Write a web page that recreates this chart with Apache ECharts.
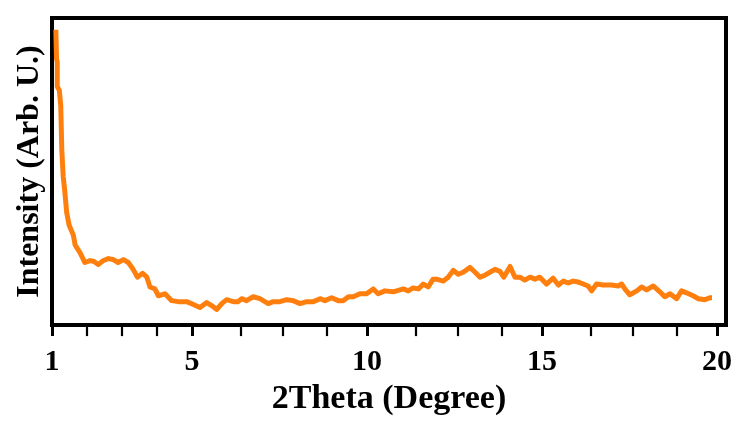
<!DOCTYPE html>
<html>
<head>
<meta charset="utf-8">
<script src="https://cdn.jsdelivr.net/npm/echarts@6/dist/echarts.min.js"></script>
<style>
  html, body { margin: 0; padding: 0; background: #fff; }
  #main { width: 736px; height: 421px; }
</style>
</head>
<body>
<div id="main"></div>
<script>
// 2Theta positions (degree)
const theta = [
  1.11, 1.13, 1.15, 1.15, 1.21, 1.25, 1.28, 1.32, 1.37, 1.42, 1.49, 1.61, 1.66, 1.80, 1.94,
  2.09, 2.20, 2.32, 2.47, 2.61, 2.75, 2.89, 3.04, 3.18, 3.32, 3.44, 3.59, 3.71, 3.80, 3.94,
  4.04, 4.23, 4.42, 4.61, 4.85, 5.04, 5.23, 5.42, 5.56, 5.71, 5.85, 5.99, 6.18, 6.32, 6.42,
  6.56, 6.75, 6.94, 7.18, 7.32, 7.51, 7.71, 7.89, 8.09, 8.28, 8.47, 8.66, 8.80, 8.99, 9.18,
  9.32, 9.47, 9.61, 9.80, 9.99, 10.18, 10.32, 10.51, 10.75, 11.04, 11.18, 11.32, 11.47, 11.61, 11.75,
  11.89, 11.99, 12.18, 12.32, 12.47, 12.61, 12.75, 12.94, 13.09, 13.23, 13.37, 13.51, 13.66, 13.80, 13.91,
  14.09, 14.23, 14.37, 14.51, 14.66, 14.80, 14.94, 15.13, 15.32, 15.47, 15.61, 15.75, 15.89, 16.04, 16.18,
  16.32, 16.42, 16.56, 16.75, 16.99, 17.18, 17.28, 17.37, 17.51, 17.71, 17.85, 17.99, 18.18, 18.37, 18.51,
  18.66, 18.85, 18.99, 19.13, 19.32, 19.47, 19.66, 19.80, 19.86
];
// intensity (arbitrary units)
const intensity = [
  302, 272, 269, 244, 240, 224, 179, 152, 135, 115, 102, 92, 82, 74, 64,
  66, 65, 62, 66, 68, 67, 64, 67, 64, 57, 49, 53, 49, 39, 37,
  30, 32, 25, 24, 24, 21, 18, 23, 20, 16, 22, 26, 24, 24, 27,
  25, 29, 27, 22, 24, 24, 26, 25, 22, 24, 24, 27, 25, 28, 25,
  25, 29, 29, 32, 32, 37, 32, 35, 34, 37, 35, 38, 37, 42, 39,
  47, 47, 45, 49, 56, 52, 54, 59, 54, 49, 51, 54, 57, 55, 49,
  60, 49, 49, 46, 49, 47, 49, 42, 48, 41, 45, 43, 45, 44, 42,
  40, 35, 42, 41, 41, 40, 42, 37, 31, 35, 39, 36, 40, 34, 29,
  32, 27, 35, 33, 30, 27, 26, 28, 28
];
const majorTicks = [1, 5, 10, 15, 20];
const minorTicks = [2, 3, 4, 6.4, 7.6, 8.85, 11.4, 12.6, 13.85, 16.4, 17.6, 18.85];

const points = theta.map((t, i) => [t, intensity[i]]);
const font = 'Liberation Serif';

const chart = echarts.init(document.getElementById('main'));
chart.setOption({
  animation: false,
  grid: {
    left: 52, right: 10, top: 18, bottom: 89.5,
    show: true, borderColor: '#000', borderWidth: 4
  },
  xAxis: [{
    type: 'value', min: 1, max: 20.26,
    splitLine: { show: false },
    axisLine: { lineStyle: { color: '#000', width: 4 } },
    axisTick: { customValues: majorTicks, length: 11, lineStyle: { color: '#000', width: 3 } },
    axisLabel: {
      customValues: majorTicks, margin: 22,
      color: '#000', fontFamily: font, fontWeight: 'bold', fontSize: 30
    },
    name: '2Theta (Degree)', nameLocation: 'middle', nameGap: 55,
    nameTextStyle: { color: '#000', fontFamily: font, fontWeight: 'bold', fontSize: 34 }
  }, {
    type: 'value', min: 1, max: 20.26, position: 'bottom',
    splitLine: { show: false },
    axisLine: { show: false },
    axisTick: { customValues: minorTicks, length: 11, lineStyle: { color: '#000', width: 2.2 } },
    axisLabel: { show: false }
  }],
  yAxis: {
    type: 'value', min: 0, max: 314,
    splitLine: { show: false },
    axisLine: { show: true, lineStyle: { color: '#000', width: 4 } },
    axisTick: { show: false },
    axisLabel: { show: false },
    name: 'Intensity (Arb. U.)', nameLocation: 'middle', nameGap: 6,
    nameTextStyle: { color: '#000', fontFamily: font, fontWeight: 'bold', fontSize: 32 }
  },
  series: [{
    type: 'line',
    xAxisIndex: 0,
    data: points,
    showSymbol: false,
    lineStyle: { color: '#ff7f0e', width: 5, join: 'round' },
    itemStyle: { color: '#ff7f0e' }
  }]
});
</script>
</body>
</html>
